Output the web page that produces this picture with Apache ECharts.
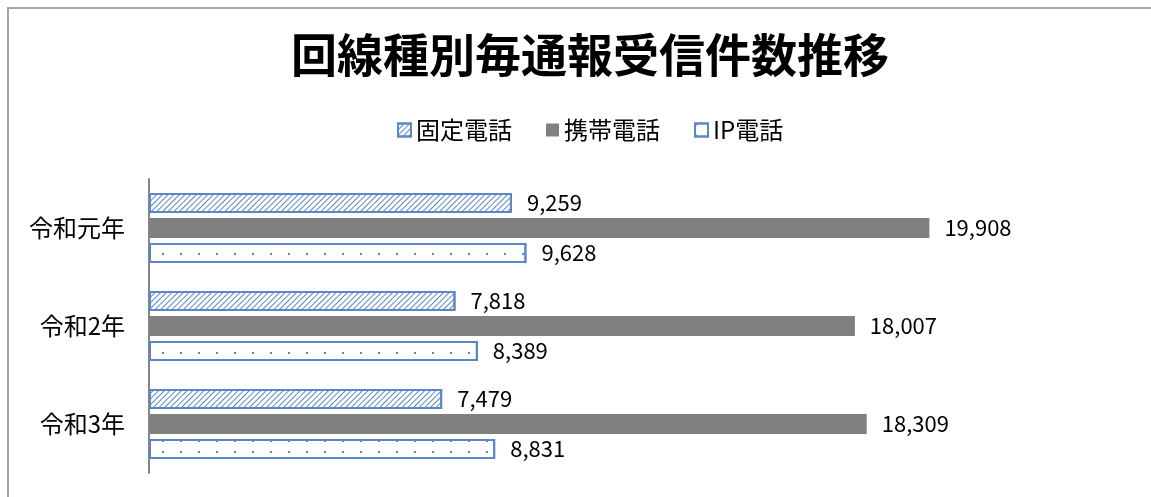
<!DOCTYPE html>
<html>
<head>
<meta charset="utf-8">
<script src="https://cdn.jsdelivr.net/npm/echarts@6/dist/echarts.min.js"></script>
<style>
  html, body { margin: 0; padding: 0; background: #fff; }
  #frame { position: absolute; left: 7px; top: 7px; width: 1200px; height: 600px;
           border-top: 2px solid #a6a6a6; border-left: 2px solid #a6a6a6; }
  #main { position: absolute; left: 0; top: 0; width: 1151px; height: 497px; }
</style>
</head>
<body>
<div id="frame"></div>
<div id="main"></div>
<script>
const years = ['令和元年', '令和2年', '令和3年'];
const fixedLine = [9259, 7818, 7479];
const mobile = [19908, 18007, 18309];
const ipPhone = [9628, 8389, 8831];

const blue = '#5b87c7';
const font = '"Noto Sans CJK JP", "Noto Sans", sans-serif';

const labelStyle = {
  show: true, position: 'right', distance: 15,
  color: '#000', fontSize: 22, fontFamily: font,
  formatter: p => p.value.toLocaleString('en-US')
};

let chart = echarts.init(document.getElementById('main'), null, { renderer: 'canvas' });
chart.setOption({
  animation: false,
  title: {
    text: '回線種別毎通報受信件数推移',
    left: 286, top: 27,
    textStyle: { fontSize: 46, fontWeight: 'bold', color: '#000', fontFamily: font }
  },
  legend: {
    top: 113, left: 392,
    itemWidth: 13, itemHeight: 13, itemGap: 34,
    icon: 'rect',
    textStyle: { fontSize: 24, color: '#000', fontFamily: font },
    data: ['固定電話', '携帯電話', 'IP電話']
  },
  grid: { left: 149, right: 22, top: 179, height: 294, containLabel: false },
  xAxis: {
    type: 'value', min: 0, max: 25000, show: false
  },
  yAxis: {
    type: 'category', data: years, inverse: true,
    axisLine: { show: true, lineStyle: { color: '#868686', width: 2 } },
    axisTick: { show: false },
    axisLabel: { color: '#000', fontSize: 24, fontFamily: font, margin: 24 }
  },
  series: [
    {
      name: '固定電話', type: 'bar', data: fixedLine,
      barWidth: 20, barGap: '25%',
      itemStyle: {
        color: '#fff', borderColor: blue, borderWidth: 2,
        decal: { symbol: 'rect', color: blue, dashArrayX: [1, 0], dashArrayY: [1, 2.5], rotation: -Math.PI / 4 }
      },
      label: labelStyle
    },
    {
      name: '携帯電話', type: 'bar', data: mobile,
      barWidth: 20, barGap: '25%',
      itemStyle: { color: '#808080' },
      label: labelStyle
    },
    {
      name: 'IP電話', type: 'bar', data: ipPhone,
      barWidth: 20, barGap: '25%',
      itemStyle: {
        color: '#fff', borderColor: blue, borderWidth: 2,
        decal: { symbol: 'rect', symbolSize: 1, color: blue, dashArrayX: [[1.5, 15.5]], dashArrayY: [1.5, 8.5] }
      },
      label: labelStyle
    }
  ]
});
</script>
</body>
</html>
